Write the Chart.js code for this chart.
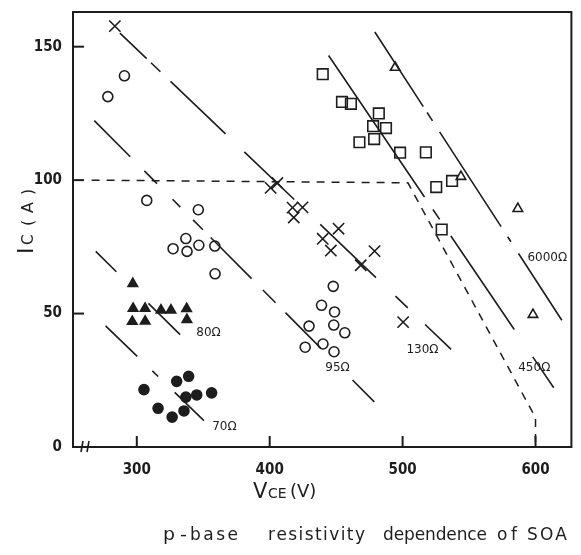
<!DOCTYPE html>
<html><head><meta charset="utf-8">
<script src="https://cdn.jsdelivr.net/npm/chart.js@4"></script>
<style>html,body{margin:0;padding:0;background:#fff;} canvas{display:block;}</style>
</head><body>
<canvas id="c" width="581" height="555"></canvas>
<script>
// ---- axes ----
const X_TICKS = [300, 400, 500, 600];
const Y_TICKS = [0, 50, 100, 150];
const X_RANGE = [252, 627];
const Y_RANGE = [0, 163];

// ---- measured points: VCE (V), Ic (A) ----
const crossV = [283.5, 400.7, 405.8, 417.2, 424.7, 418.1, 439.9, 451.8, 446.0, 468.5, 478.9, 500.4];
const crossI = [157.7, 97.1, 98.9, 89.7, 89.8, 86.0, 78.0, 81.8, 73.6, 68.1, 73.4, 46.8];
const squareV = [439.9, 454.4, 461.1, 482.1, 477.8, 487.5, 467.5, 478.6, 498.1, 517.5, 525.3, 537.2, 529.4];
const squareI = [139.7, 129.3, 128.6, 125.0, 120.2, 119.5, 114.2, 115.4, 110.3, 110.4, 97.4, 99.7, 81.5];
const triOpenV = [494.4, 543.9, 586.7, 598.1];
const triOpenI = [142.2, 101.3, 89.3, 49.6];
const circOpenV = [290.7, 278.2, 307.5, 346.3, 327.3, 336.9, 337.8, 346.7, 358.7, 358.9, 447.8, 439.0, 448.8, 429.6, 448.2, 456.5, 426.7, 440.1, 448.4];
const circOpenI = [139.1, 131.3, 92.4, 88.9, 74.3, 78.1, 73.3, 75.6, 75.3, 64.9, 60.2, 53.1, 50.6, 45.3, 45.7, 42.8, 37.4, 38.6, 35.7];
const triFillV = [297.0, 297.2, 306.2, 318.2, 325.7, 337.5, 296.6, 306.3, 337.7];
const triFillI = [61.2, 51.9, 51.9, 51.3, 51.3, 51.8, 47.0, 47.1, 47.7];
const circFillV = [305.4, 330.0, 339.0, 336.9, 345.1, 356.3, 316.0, 326.6, 335.5];
const circFillI = [21.5, 24.6, 26.5, 18.7, 19.5, 20.3, 14.5, 11.2, 13.5];

// ---- resistivity lines (end points) ----
const line70V = [276.5, 350.5],   line70I = [45.4, 9.9];
const line80V = [269.1, 332.6],   line80I = [73.3, 42.1];
const line95V = [268.0, 478.7],   line95I = [122.3, 16.9];
const line130V = [287.3, 536.5],  line130I = [155.1, 36.6];
const line450V = [444.3, 613.7],  line450I = [146.7, 22.2];
const line6000V = [479.1, 619.8], line6000I = [155.5, 47.5];
// SOA boundary
const soaV = [266, 504, 600, 600];
const soaI = [100, 99, 11, 0];

// ---- labels ----
const resLabels = ['70Ω', '80Ω', '95Ω', '130Ω', '450Ω', '6000Ω'];
const resLabelV = [356.7, 344.8, 441.8, 502.9, 587.0, 593.9];
const resLabelI = [7.4, 42.9, 29.7, 36.4, 29.5, 70.7];
const captionText = ['p', '-', 'base', 'resistivity', 'dependence', 'of', 'SOA'];

const INK = '#1d1d1d';
const pts = (vs, is) => vs.map((v, k) => ({x: v, y: is[k]}));

function lineDs(vs, is, dash) {
  return {type: 'scatter', data: pts(vs, is), showLine: true, pointRadius: 0,
          borderColor: INK, borderWidth: 1.6, borderDash: dash, fill: false, order: 5};
}
function markDs(vs, is, style, r, filled) {
  return {type: 'scatter', data: pts(vs, is), showLine: false, pointStyle: style,
          pointRadius: r, pointBorderWidth: 1.6, pointBorderColor: INK,
          pointBackgroundColor: filled ? INK : 'rgba(0,0,0,0)', order: 1};
}

// draw a word spread evenly between x0 and x1
function spreadText(ctx, t, x0, x1, y) {
  const chars = [...t];
  const ws = chars.map(c => ctx.measureText(c).width);
  const tot = ws.reduce((s, w) => s + w, 0);
  if (chars.length === 1) {
    ctx.save(); ctx.translate(x0, y); ctx.scale((x1 - x0) / tot, 1); ctx.fillText(t, 0, 0); ctx.restore();
    return;
  }
  const gap = (x1 - x0 - tot) / (chars.length - 1);
  let x = x0;
  chars.forEach((c, k) => { ctx.fillText(c, x, y); x += ws[k] + gap; });
}

const decor = {
  id: 'decor',
  afterDraw(chart) {
    const ctx = chart.ctx, a = chart.chartArea;
    const xs = chart.scales.x, ys = chart.scales.y;
    ctx.save();
    ctx.strokeStyle = INK; ctx.fillStyle = INK;
    // frame
    ctx.lineWidth = 2;
    ctx.beginPath();
    ctx.moveTo(a.left, a.top); ctx.lineTo(a.right, a.top); ctx.lineTo(a.right, a.bottom);
    ctx.lineTo(a.left, a.bottom); ctx.closePath(); ctx.stroke();
    // inward ticks
    X_TICKS.forEach(v => { const p = xs.getPixelForValue(v);
      ctx.beginPath(); ctx.moveTo(p, a.bottom); ctx.lineTo(p, a.bottom - 11); ctx.stroke(); });
    Y_TICKS.forEach(v => { const p = ys.getPixelForValue(v);
      ctx.beginPath(); ctx.moveTo(a.left, p); ctx.lineTo(a.left + 11, p); ctx.stroke(); });
    // axis break
    ctx.lineWidth = 1.6;
    [[81, 83], [87, 89]].forEach(([x0, x1]) => {
      ctx.beginPath(); ctx.moveTo(x0, a.bottom + 5); ctx.lineTo(x1, a.bottom - 6); ctx.stroke(); });
    // resistivity labels
    ctx.font = '12px "DejaVu Sans"';
    ctx.textAlign = 'left'; ctx.textBaseline = 'middle';
    resLabels.forEach((t, k) => ctx.fillText(t, xs.getPixelForValue(resLabelV[k]), ys.getPixelForValue(resLabelI[k])));
    // x title: VCE (V)
    ctx.textBaseline = 'alphabetic';
    ctx.font = '21px "DejaVu Sans"'; ctx.fillText('V', 253, 498);
    ctx.font = '14px "DejaVu Sans"'; ctx.fillText('CE', 268, 498);
    ctx.font = '18px "DejaVu Sans"'; ctx.fillText('(V)', 290, 497);
    // y title: Ic (A)
    ctx.save();
    ctx.translate(33, 254); ctx.rotate(-Math.PI / 2);
    ctx.font = '22px "DejaVu Sans"'; ctx.fillText('I', 0, 0);
    ctx.font = '15px "DejaVu Sans"'; ctx.fillText('C', 9, 0);
    ctx.font = '16px "DejaVu Sans"';
    ctx.fillText('(', 28, 0); ctx.fillText('A', 41, 0); ctx.fillText(')', 59, 0);
    ctx.restore();
    // caption
    const spans = [[163, 175], [180, 187], [190, 238], [268, 365], [383, 487], [497, 517], [527, 567]];
    ctx.font = '17px "DejaVu Sans"';
    captionText.forEach((t, k) => spreadText(ctx, t, spans[k][0], spans[k][1], 540));
    ctx.restore();
  }
};

new Chart(document.getElementById('c'), {
  type: 'scatter',
  data: {
    datasets: [
      markDs(circOpenV, circOpenI, 'circle', 5, false),
      markDs(circFillV, circFillI, 'circle', 5, true),
      markDs(crossV, crossI, 'crossRot', 8, false),
      markDs(squareV, squareI, 'rect', 7.5, false),
      markDs(triOpenV, triOpenI, 'triangle', 5.5, false),
      markDs(triFillV, triFillI, 'triangle', 5.5, true),
      lineDs(line70V, line70I, [44, 21, 8, 23, 80]),
      lineDs(line80V, line80I, [29, 45, 80]),
      lineDs(line95V, line95I, [51, 20, 18, 22, 11, 18, 14, 11, 58, 16, 18, 14, 50, 45, 80]),
      lineDs(line130V, line130I, [37, 6, 13, 14, 76, 26, 69, 36, 77, 27, 17, 24, 80]),
      lineDs(line450V, line450I, [171, 15, 12, 20, 113, 33, 80]),
      lineDs(line6000V, line6000I, [89, 7, 10, 13, 113, 12, 6, 14, 120]),
      Object.assign(lineDs(soaV, soaI, [8, 7]), {borderWidth: 1.5})
    ]
  },
  options: {
    responsive: false, animation: false, devicePixelRatio: 1,
    layout: {padding: {left: 0, right: 6, top: 8, bottom: 0}},
    plugins: {legend: {display: false}, tooltip: {enabled: false}},
    scales: {
      x: {type: 'linear', min: X_RANGE[0], max: X_RANGE[1],
          grid: {display: false}, border: {display: false},
          afterBuildTicks: s => { s.ticks = X_TICKS.map(v => ({value: v})); },
          afterFit: s => { s.height = 108; },
          ticks: {color: INK, padding: 6, font: {family: '"DejaVu Sans Condensed"', size: 15, weight: 'bold'}}},
      y: {type: 'linear', min: Y_RANGE[0], max: Y_RANGE[1],
          grid: {display: false}, border: {display: false},
          afterBuildTicks: s => { s.ticks = Y_TICKS.map(v => ({value: v})); },
          afterFit: s => { s.width = 73; },
          ticks: {color: INK, padding: 3, font: {family: '"DejaVu Sans Condensed"', size: 15, weight: 'bold'}}}
    }
  },
  plugins: [decor]
});
</script>
</body></html>
